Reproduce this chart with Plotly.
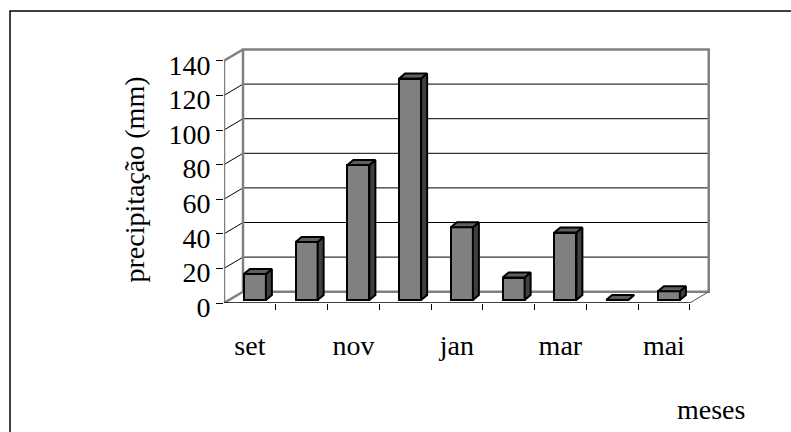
import plotly.graph_objects as go

# ---- data ----
months = ["set", "out", "nov", "dez", "jan", "fev", "mar", "abr", "mai"]
precip = [15, 33.5, 78, 128, 42, 13, 39, 0, 5]
y_ticks = [0, 20, 40, 60, 80, 100, 120, 140]
x_labels = ["set", "", "nov", "", "jan", "", "mar", "", "mai"]

# ---- geometry (pixel layout converted to axis units) ----
L, R, T, B = 224, 712, 44, 303      # plot area in pixels
W, H = 791, 432
PX_X = 51.75                        # pixels per category
PX_Y = 1.73                         # pixels per mm
x_min = -0.5
x_max = x_min + (R - L) / PX_X
y_max = (B - T) / PX_Y

WDX, WDY = 19 / PX_X, 11.3 / PX_Y   # wall depth offset
OFX, OFY = 5 / PX_X, 3 / PX_Y       # bar front-face depth offset
BW = 22 / PX_X                      # bar width
BDX, BDY = 6 / PX_X, 5 / PX_Y       # bar depth

n = len(months)
xs = list(range(n))
y_top = y_ticks[-1]
x_end = n - 0.5

FONT = "Liberation Serif, Times New Roman, serif"
GRAY = "#808080"

fig = go.Figure()

# side + top faces of bars
side_x, side_y, top_x, top_y = [], [], [], []
for i, v in zip(xs, precip):
    xl = i + OFX - BW / 2
    xr = i + OFX + BW / 2
    b = OFY
    t = OFY + v
    side_x += [xr, xr + BDX, xr + BDX, xr, xr, None]
    side_y += [b, b + BDY, t + BDY, t, b, None]
    top_x += [xl, xr, xr + BDX, xl + BDX, xl, None]
    top_y += [t, t, t + BDY, t + BDY, t, None]

fig.add_trace(go.Scatter(x=side_x, y=side_y, mode="lines", fill="toself",
                         fillcolor="#404040", line=dict(color="black", width=2),
                         hoverinfo="skip", showlegend=False))
fig.add_trace(go.Scatter(x=top_x, y=top_y, mode="lines", fill="toself",
                         fillcolor="#5f5f5f", line=dict(color="black", width=2),
                         hoverinfo="skip", showlegend=False))
# front faces
fig.add_trace(go.Bar(x=[i + OFX for i in xs], y=precip, base=OFY, width=BW,
                     marker=dict(color=GRAY, line=dict(color="black", width=2)),
                     showlegend=False, hoverinfo="skip"))

shapes = []
# back wall gridlines
for v in y_ticks[1:-1]:
    shapes.append(dict(type="line", xref="x", yref="y", layer="below",
                       x0=x_min + WDX, x1=x_end + WDX, y0=v + WDY, y1=v + WDY,
                       line=dict(color="black", width=1)))
# side wall diagonals
for v in y_ticks:
    col = GRAY if v in (0, y_top) else "black"
    wdt = 2.5 if v in (0, y_top) else 1
    shapes.append(dict(type="line", xref="x", yref="y", layer="below",
                       x0=x_min, x1=x_min + WDX, y0=v, y1=v + WDY,
                       line=dict(color=col, width=wdt)))
# back wall border
shapes.append(dict(type="rect", xref="x", yref="y", layer="below",
                   x0=x_min + WDX, x1=x_end + WDX, y0=WDY, y1=y_top + WDY,
                   line=dict(color=GRAY, width=2.5)))
# front vertical axis line
shapes.append(dict(type="line", xref="x", yref="y", layer="below",
                   x0=x_min, x1=x_min, y0=0, y1=y_top,
                   line=dict(color=GRAY, width=2.5)))
# floor front edge and right diagonal
shapes.append(dict(type="line", xref="x", yref="y",
                   x0=x_min, x1=x_end, y0=0, y1=0,
                   line=dict(color="black", width=1.5)))
shapes.append(dict(type="line", xref="x", yref="y", layer="below",
                   x0=x_end, x1=x_end + WDX, y0=0, y1=WDY,
                   line=dict(color="#505050", width=1)))
# outer chart border (only left and top visible)
shapes.append(dict(type="rect", xref="paper", yref="paper",
                   x0=(10 - L) / (R - L), x1=(W + 20 - L) / (R - L),
                   y0=(B - (H + 20)) / (B - T), y1=(B - 11) / (B - T),
                   line=dict(color="black", width=1.5)))

fig.update_layout(
    width=W, height=H,
    margin=dict(l=L, r=W - R, t=T, b=H - B, pad=0),
    paper_bgcolor="white", plot_bgcolor="rgba(0,0,0,0)",
    bargap=0, showlegend=False,
    shapes=shapes,
    font=dict(family=FONT, color="black"),
    xaxis=dict(range=[x_min, x_max], tickmode="array", tickvals=xs,
               ticktext=x_labels, ticks="", showgrid=False, zeroline=False,
               showline=False, tickfont=dict(family=FONT, size=28, color="black"),
               ticklabelstandoff=23,
               minor=dict(tickmode="array", tickvals=[i + 0.5 for i in xs],
                          ticks="outside", ticklen=6, tickcolor="black",
                          tickwidth=1, showgrid=False)),
    yaxis=dict(range=[0, y_max], tickmode="array", tickvals=y_ticks,
               ticks="outside", ticklen=7, tickcolor="black", tickwidth=1,
               showgrid=False, zeroline=False, showline=False,
               ticklabelshift=4,
               tickfont=dict(family=FONT, size=28, color="black")),
    annotations=[
        dict(text="precipitação (mm)", xref="paper", yref="paper",
             x=(134 - L) / (R - L), y=(B - 179.5) / (B - T),
             textangle=-90, showarrow=False, xanchor="center", yanchor="middle",
             font=dict(family=FONT, size=28, color="black")),
        dict(text="meses", xref="paper", yref="paper",
             x=(711 - L) / (R - L), y=(B - 409) / (B - T),
             showarrow=False, xanchor="center", yanchor="middle",
             font=dict(family=FONT, size=28, color="black")),
    ],
)

fig.write_html("out.html")
